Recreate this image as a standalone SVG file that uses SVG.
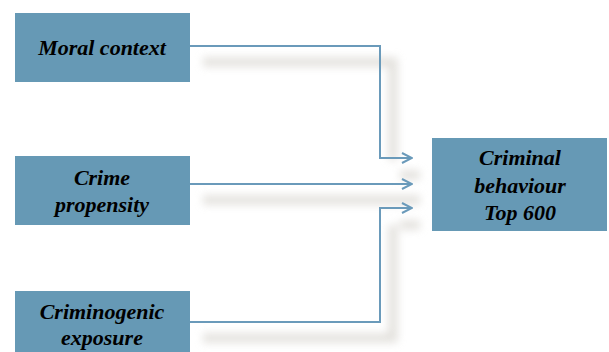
<svg xmlns="http://www.w3.org/2000/svg" width="609" height="352" viewBox="0 0 609 352">
<style>
.box{fill:#6699b5}
.t{font-family:"Liberation Serif","Times New Roman",serif;font-weight:bold;font-style:italic;font-size:22px;fill:#000;text-anchor:middle}
.c{fill:none;stroke:#6a9aba;stroke-width:2}
.s{fill:none;stroke:#dcd9d4;stroke-width:9}
</style>
<defs>
<filter id="blur" x="-20%" y="-20%" width="140%" height="140%"><feGaussianBlur stdDeviation="4"/></filter>
<marker id="arr" viewBox="0 0 12 12" refX="11" refY="6" markerWidth="12" markerHeight="12" markerUnits="userSpaceOnUse" orient="auto">
<path d="M1,1 L11,6 L1,11" fill="none" stroke="#6a9aba" stroke-width="2"/>
</marker>
</defs>
<g id="shadows" filter="url(#blur)" opacity="0.8">
<path class="s" d="M203,62 H393 V160"/>
<path class="s" d="M203,200 H420"/>
<path class="s" d="M203,338 H393 V225"/>
<path class="s" d="M400,175 H420 M400,225 H420"/>
</g>
<g id="connectors">
<path class="c" d="M190,46 H380 V158 H412" marker-end="url(#arr)"/>
<path class="c" d="M190,184 H412" marker-end="url(#arr)"/>
<path class="c" d="M190,322 H380 V208 H412" marker-end="url(#arr)"/>
</g>
<g id="moral">
<rect class="box" x="15" y="13" width="175" height="69"/>
<text class="t" x="102" y="55">Moral context</text>
</g>
<g id="propensity">
<rect class="box" x="15" y="156" width="175" height="69"/>
<text class="t" x="102" y="185">Crime</text>
<text class="t" x="102" y="212">propensity</text>
</g>
<g id="exposure">
<rect class="box" x="15" y="291" width="175" height="69"/>
<text class="t" x="102" y="319">Criminogenic</text>
<text class="t" x="102" y="345">exposure</text>
</g>
<g id="behaviour">
<rect class="box" x="432" y="138" width="175" height="93"/>
<text class="t" x="520" y="165">Criminal</text>
<text class="t" x="520" y="193">behaviour</text>
<text class="t" x="520" y="220">Top 600</text>
</g>
</svg>
